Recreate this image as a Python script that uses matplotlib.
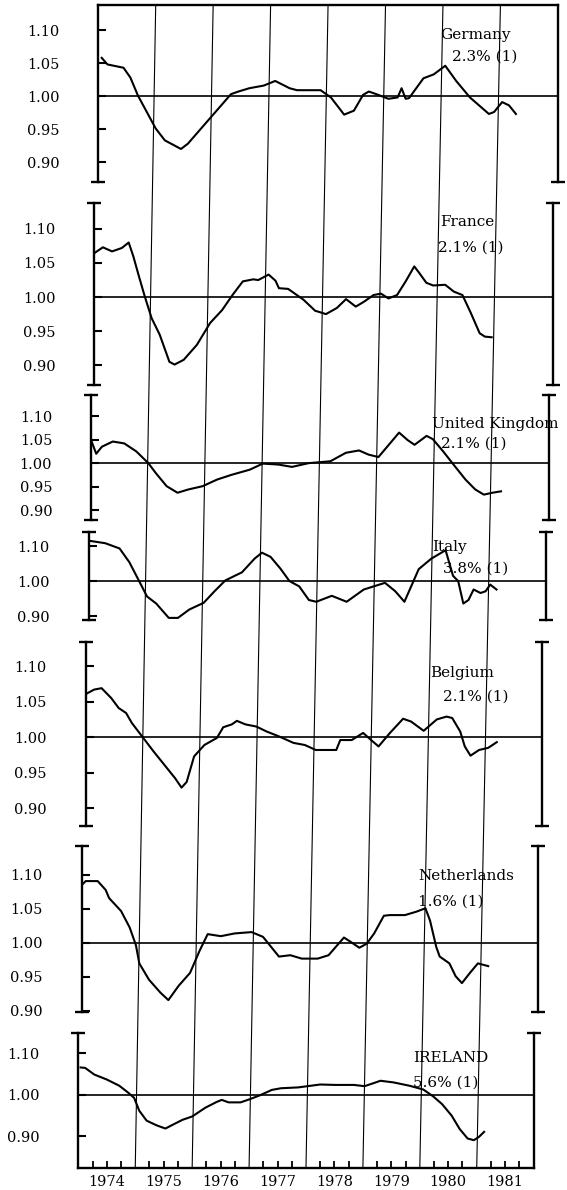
import matplotlib
matplotlib.use("Agg")
import matplotlib.pyplot as plt
from matplotlib.lines import Line2D

plt.rcParams['font.family'] = ['DejaVu Serif']

W, H = 567, 1190

years = [1974, 1975, 1976, 1977, 1978, 1979, 1980, 1981]
countries = ["Germany", "France", "United Kingdom", "Italy", "Belgium", "Netherlands", "IRELAND"]
rates = ["2.3% (1)", "2.1% (1)", "2.1% (1)", "3.8% (1)", "2.1% (1)", "1.6% (1)", "5.6% (1)"]

germany_t = [1974.06, 1974.16, 1974.44, 1974.56, 1974.69, 1975.0, 1975.16, 1975.44, 1975.56, 1975.94,
             1976.31, 1976.44, 1976.63, 1976.88, 1977.08, 1977.33, 1977.46, 1977.87, 1978.05, 1978.28,
             1978.45, 1978.61, 1978.71, 1978.84, 1979.05, 1979.21, 1979.28, 1979.35, 1979.41, 1979.66,
             1979.84, 1980.04, 1980.23, 1980.47, 1980.8, 1980.89, 1981.03, 1981.15, 1981.27]
germany_v = [1.058, 1.048, 1.043, 1.028, 1.001, 0.951, 0.933, 0.920, 0.928, 0.966,
             1.003, 1.007, 1.012, 1.016, 1.023, 1.012, 1.009, 1.009, 0.998, 0.972,
             0.978, 1.002, 1.007, 1.003, 0.996, 0.998, 1.012, 0.996, 0.997, 1.027,
             1.033, 1.046, 1.023, 0.998, 0.973, 0.976, 0.991, 0.986, 0.973]

france_t = [1974.01, 1974.15, 1974.31, 1974.48, 1974.6, 1974.68, 1974.78, 1974.88, 1975.0, 1975.14,
            1975.31, 1975.4, 1975.56, 1975.79, 1976.02, 1976.23, 1976.41, 1976.59, 1976.77, 1976.86,
            1977.04, 1977.16, 1977.22, 1977.38, 1977.65, 1977.85, 1978.04, 1978.23, 1978.39, 1978.56,
            1978.7, 1978.87, 1979.0, 1979.13, 1979.28, 1979.43, 1979.58, 1979.67, 1979.79, 1979.91,
            1980.12, 1980.27, 1980.42, 1980.57, 1980.72, 1980.81, 1980.93]
france_v = [1.065, 1.073, 1.067, 1.072, 1.080, 1.060, 1.030, 1.001, 0.969, 0.945,
            0.905, 0.901, 0.908, 0.930, 0.962, 0.981, 1.003, 1.023, 1.026, 1.025,
            1.033, 1.024, 1.013, 1.012, 0.996, 0.980, 0.975, 0.984, 0.997, 0.986,
            0.993, 1.003, 1.005, 0.998, 1.003, 1.023, 1.045, 1.035, 1.021, 1.017,
            1.018, 1.008, 1.003, 0.976, 0.947, 0.942, 0.941]

uk_t = [1974.01, 1974.09, 1974.19, 1974.38, 1974.58, 1974.79, 1975.0, 1975.13, 1975.32, 1975.51,
        1975.7, 1975.95, 1976.2, 1976.45, 1976.77, 1977.0, 1977.27, 1977.51, 1977.8, 1978.18,
        1978.45, 1978.68, 1978.85, 1979.02, 1979.2, 1979.38, 1979.53, 1979.65, 1979.86, 1979.97,
        1980.15, 1980.33, 1980.54, 1980.71, 1980.86, 1981.01, 1981.16]
uk_v = [1.046, 1.020, 1.035, 1.046, 1.042, 1.025, 1.000, 0.979, 0.951, 0.937,
        0.944, 0.951, 0.965, 0.975, 0.986, 0.999, 0.997, 0.992, 1.000, 1.004,
        1.022, 1.027, 1.018, 1.013, 1.039, 1.065, 1.049, 1.039, 1.058, 1.051,
        1.025, 0.997, 0.965, 0.944, 0.933, 0.937, 0.940]

italy_t = [1974.01, 1974.29, 1974.54, 1974.71, 1974.85, 1975.02, 1975.18, 1975.4, 1975.56, 1975.76,
           1976.01, 1976.2, 1976.39, 1976.68, 1976.9, 1977.03, 1977.18, 1977.35, 1977.51, 1977.68,
           1977.85, 1977.98, 1978.25, 1978.51, 1978.81, 1979.18, 1979.36, 1979.52, 1979.77, 1979.99,
           1980.24, 1980.37, 1980.46, 1980.55, 1980.64, 1980.73, 1980.85, 1980.94, 1981.02, 1981.13]
italy_v = [1.115, 1.108, 1.093, 1.054, 1.010, 0.956, 0.936, 0.895, 0.895, 0.919,
           0.938, 0.971, 1.002, 1.025, 1.064, 1.081, 1.069, 1.036, 1.000, 0.985,
           0.946, 0.941, 0.958, 0.941, 0.976, 0.995, 0.971, 0.941, 1.034, 1.064,
           1.088, 1.015, 1.000, 0.936, 0.946, 0.976, 0.966, 0.971, 0.990, 0.976]

belgium_t = [1974.01, 1974.15, 1974.28, 1974.45, 1974.58, 1974.71, 1974.81, 1975.0, 1975.19, 1975.38,
             1975.57, 1975.68, 1975.77, 1975.9, 1976.08, 1976.3, 1976.41, 1976.56, 1976.65, 1976.8,
             1976.99, 1977.17, 1977.39, 1977.64, 1977.84, 1978.03, 1978.39, 1978.46, 1978.66, 1978.86,
             1979.0, 1979.13, 1979.33, 1979.56, 1979.7, 1979.92, 1980.15, 1980.32, 1980.42, 1980.56,
             1980.64, 1980.74, 1980.89, 1981.05, 1981.2]
belgium_v = [1.061, 1.067, 1.069, 1.055, 1.041, 1.034, 1.020, 1.000, 0.980, 0.961,
             0.942, 0.929, 0.937, 0.973, 0.989, 0.999, 1.014, 1.018, 1.023, 1.018,
             1.015, 1.008, 1.001, 0.992, 0.989, 0.982, 0.982, 0.996, 0.996, 1.006,
             0.996, 0.987, 1.006, 1.026, 1.022, 1.009, 1.025, 1.029, 1.027, 1.008,
             0.987, 0.974, 0.982, 0.985, 0.993]

netherlands_t = [1974.01, 1974.07, 1974.28, 1974.42, 1974.48, 1974.69, 1974.84, 1974.95, 1975.01, 1975.18,
                 1975.38, 1975.52, 1975.7, 1975.9, 1976.07, 1976.21, 1976.44, 1976.68, 1976.98, 1977.18,
                 1977.46, 1977.66, 1977.86, 1978.14, 1978.33, 1978.6, 1978.73, 1978.87, 1979.0, 1979.13,
                 1979.3, 1979.4, 1979.67, 1979.87, 1980.03, 1980.11, 1980.22, 1980.28, 1980.45, 1980.56,
                 1980.67, 1980.81, 1980.95, 1981.13]
netherlands_v = [1.086, 1.091, 1.091, 1.078, 1.066, 1.047, 1.023, 0.997, 0.970, 0.946,
                 0.927, 0.916, 0.937, 0.956, 0.989, 1.013, 1.010, 1.014, 1.016, 1.009,
                 0.980, 0.982, 0.977, 0.977, 0.982, 1.008, 1.001, 0.993, 0.999, 1.014,
                 1.040, 1.041, 1.041, 1.046, 1.051, 1.033, 0.994, 0.980, 0.970, 0.951,
                 0.941, 0.956, 0.970, 0.966]

ireland_t = [1974.04, 1974.12, 1974.28, 1974.5, 1974.72, 1974.87, 1974.98, 1975.07, 1975.2, 1975.37,
             1975.53, 1975.7, 1975.83, 1976.0, 1976.23, 1976.43, 1976.52, 1976.64, 1976.85, 1977.0,
             1977.19, 1977.4, 1977.56, 1977.86, 1978.25, 1978.51, 1978.84, 1979.03, 1979.31, 1979.54,
             1979.82, 1980.06, 1980.23, 1980.39, 1980.56, 1980.7, 1980.84, 1980.95, 1981.04, 1981.13]
ireland_v = [1.066, 1.065, 1.049, 1.037, 1.022, 1.006, 0.993, 0.962, 0.938, 0.927,
             0.919, 0.931, 0.940, 0.948, 0.969, 0.983, 0.988, 0.982, 0.982, 0.989,
             0.999, 1.012, 1.016, 1.018, 1.025, 1.024, 1.024, 1.021, 1.034, 1.030,
             1.022, 1.013, 0.997, 0.978, 0.950, 0.918, 0.895, 0.891, 0.899, 0.911]

series = [(germany_t, germany_v), (france_t, france_v), (uk_t, uk_v), (italy_t, italy_v),
          (belgium_t, belgium_v), (netherlands_t, netherlands_v), (ireland_t, ireland_v)]

ticks5 = [0.90, 0.95, 1.00, 1.05, 1.10]
ticks3 = [0.90, 1.00, 1.10]

# panel frames in pixels: top, bottom, y-limits, ticks, name position, rate position
panels = [
    (5, 182, (0.870, 1.138), ticks5, (440, 35), (452, 57)),
    (203, 385, (0.871, 1.138), ticks5, (440, 222), (438, 248)),
    (395, 520, (0.879, 1.145), ticks5, (432, 424), (441, 444)),
    (532, 620, (0.889, 1.140), ticks3, (432, 547), (443, 569)),
    (642, 826, (0.875, 1.134), ticks5, (430, 673), (443, 697)),
    (846, 1012, (0.8985, 1.1426), ticks5, (418, 876), (418, 902)),
    (1033, 1168, (0.824, 1.149), ticks3, (413, 1058), (413, 1083)),
]


def edges(yc):
    # the sheet sits slightly skewed, so each strip is nudged left going down
    f = (yc - 5) / 1163
    return 100 - 23 * f, 560 - 28 * f


fig = plt.figure(figsize=(W / 100, H / 100), dpi=100)
axes = []
n = len(panels)
for i, (top, bot, ylim, ticks, name_xy, rate_xy) in enumerate(panels):
    left, right = edges((top + bot) / 2)
    ax = fig.add_axes([left / W, 1 - bot / H, (right - left) / W, (bot - top) / H])
    ax.patch.set_visible(False)
    t, v = series[i]
    ax.plot(t, v, color='black', lw=1.5, solid_joinstyle='round')
    ax.axhline(1.0, color='black', lw=1.2)
    ax.set_xlim(1974, 1982)
    ax.set_ylim(*ylim)
    ax.set_yticks(ticks)
    ax.set_yticklabels(['%.2f' % x for x in ticks])
    ax.tick_params(axis='y', direction='in', length=6, width=1.5, pad=28, labelsize=10.5,
                   right=False)
    for side in ('left', 'right'):
        ax.spines[side].set_linewidth(1.7)
    ax.spines['top'].set_visible(i == 0)
    ax.spines['top'].set_linewidth(1.7)
    ax.spines['bottom'].set_visible(i == n - 1)
    ax.spines['bottom'].set_linewidth(1.7)
    # end caps on the vertical axes
    for xs in (0, 1):
        for ys in (0, 1):
            if (i == 0 and ys == 1) or (i == n - 1 and ys == 0):
                continue
            ax.plot([xs], [ys], marker='_', ms=10, mew=1.7, color='black',
                    transform=ax.transAxes, clip_on=False)
    if i < n - 1:
        ax.set_xticks([])
    else:
        ax.xaxis.remove_overlapping_locs = False
        ax.set_xticks([y + 0.5 for y in years])
        ax.set_xticklabels([str(y) for y in years])
        ax.set_xticks([y + q for y in years for q in (0.25, 0.5, 0.75)], minor=True)
        ax.tick_params(axis='x', which='major', length=0, pad=5, labelsize=10.5)
        ax.tick_params(axis='x', which='minor', direction='in', length=5, width=1.3)
    fig.text(name_xy[0] / W, 1 - name_xy[1] / H, countries[i], fontsize=11, va='center', ha='left')
    fig.text(rate_xy[0] / W, 1 - rate_xy[1] / H, rates[i], fontsize=11, va='center', ha='left')
    axes.append(ax)

# year dividers run through all strips, from the top border to the time axis
inv = fig.transFigure.inverted()
top_ax, bot_ax = axes[0], axes[-1]
for yr in years[1:]:
    p0 = inv.transform(top_ax.transData.transform((yr, top_ax.get_ylim()[1])))
    p1 = inv.transform(bot_ax.transData.transform((yr, bot_ax.get_ylim()[0])))
    fig.add_artist(Line2D([p0[0], p1[0]], [p0[1], p1[1]], color='black', lw=0.8,
                          transform=fig.transFigure, zorder=0))

fig.savefig('out.png', dpi=100)
